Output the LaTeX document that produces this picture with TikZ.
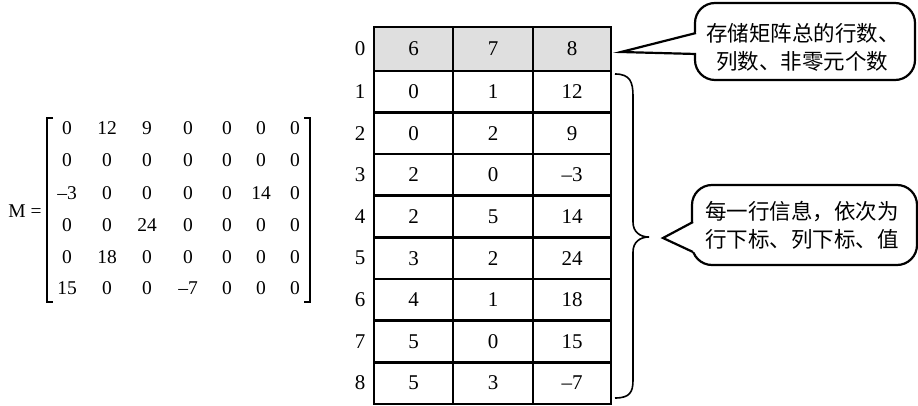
\documentclass[tikz,border=0pt]{standalone}
\usepackage{fontspec}
\setmainfont{Liberation Serif}
\newfontfamily\cjk{Noto Sans CJK SC}
\begin{document}
\begin{tikzpicture}[x=1pt,y=-1pt,
  num/.style={font=\fontsize{21}{21}\selectfont, inner sep=0pt},
  mnum/.style={font=\fontsize{19.5}{19.5}\selectfont, inner sep=0pt},
  grid/.style={line width=2.6pt},
  callout/.style={line width=2.2pt, rounded corners=20pt},
  ptr/.style={line width=2.2pt, line join=miter},
  cn/.style={font=\cjk\fontsize{21.5}{21.5}\selectfont, inner sep=0pt, anchor=west},
  bracket/.style={line width=1.2pt},
  bracestyle/.style={line width=1.6pt}]
\useasboundingbox (0,0) rectangle (918,406);
% ---------- matrix ----------
\node[mnum] (M) at (25,211) {M =};
\draw[bracket] (53,118) -- (47,118) -- (47,302) -- (53,302);
\draw[bracket] (304,118) -- (310,118) -- (310,302) -- (304,302);
\def\mcols{67,107,147,188,227,261,295}
\foreach \r/\y/\vals in {1/128/{0,12,9,0,0,0,0},2/160/{0,0,0,0,0,0,0},3/193/{–3,0,0,0,0,14,0},4/225/{0,0,24,0,0,0,0},5/257/{0,18,0,0,0,0,0},6/288/{15,0,0,–7,0,0,0}}{
  \foreach \v [count=\c] in \vals {
    \pgfmathsetmacro{\xx}{{\mcols}[\c-1]}
    \node[mnum] (m-\r-\c) at (\xx,\y) {\v};
  }
}
% ---------- table ----------
\fill[gray!25] (374,27) rectangle (611,71);
\draw[grid] (374,27) rectangle (611,404);
\draw[grid] (453,27) -- (453,404);
\draw[grid] (533,27) -- (533,404);
\foreach \i in {0,...,7}{
  \draw[grid] (374,{71+41.6*\i}) -- (611,{71+41.6*\i});
}
\node[num] (r0) at (360,49) {0};
\node[num] (t-0-1) at (413.5,49) {6};
\node[num] (t-0-2) at (493,49) {7};
\node[num] (t-0-3) at (572,49) {8};
\foreach \r/\a/\b/\c in {1/0/1/12,2/0/2/9,3/2/0/–3,4/2/5/14,5/3/2/24,6/4/1/18,7/5/0/15,8/5/3/–7}{
  \pgfmathsetmacro{\yy}{71+41.6*(\r-0.5)}
  \node[num] (r\r) at (360,\yy) {\r};
  \node[num] (t-\r-1) at (413.5,\yy) {\a};
  \node[num] (t-\r-2) at (493,\yy) {\b};
  \node[num] (t-\r-3) at (572,\yy) {\c};
}
% ---------- brace ----------
\coordinate (bt) at (615,74);
\coordinate (bm) at (649,237);
\coordinate (bb) at (615,398);
\draw[bracestyle] (bt) .. controls (630,74) and (633,82) .. (633,96)
  -- (633,222) .. controls (633,232) and (640,237) .. (bm)
  .. controls (640,237) and (633,242) .. (633,252)
  -- (633,380) .. controls (633,392) and (630,398) .. (bb);
% ---------- callout 1 ----------
\draw[callout, fill=white] (695,3) rectangle (915,80);
\coordinate (p1) at (621,52);
\fill[white] (697,32) -- (p1) -- (697,54) -- (700,54) -- (700,32) -- cycle;
\draw[ptr] (696,33) -- (p1) -- (696,54);
\node[cn] (c1a) at (706,33) {存储矩阵总的行数、};
\node[cn] (c1b) at (716,61) {列数、非零元个数};
% ---------- callout 2 ----------
\draw[callout, fill=white] (692,185) rectangle (917,265);
\coordinate (p2) at (663,238);
\fill[white] (694,222) -- (p2) -- (694,252) -- (697,252) -- (697,222) -- cycle;
\draw[ptr] (693,222) -- (p2) -- (693,252);
\node[cn] (c2a) at (705,212) {每一行信息，依次为};
\node[cn] (c2b) at (705,239) {行下标、列下标、值};
\end{tikzpicture}
\end{document}
